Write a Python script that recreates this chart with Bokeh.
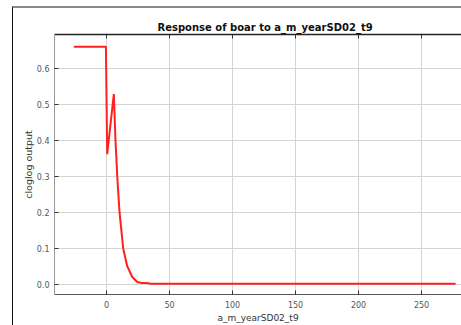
from bokeh.plotting import figure
from bokeh.models import LinearAxis, FixedTicker, Range1d, Grid, PrintfTickFormatter, CustomJSTickFormatter
from bokeh.layouts import column
from bokeh.embed import file_html
from bokeh.resources import INLINE

# Response curve of boar to a_m_yearSD02_t9 (cloglog output)
x_vals = [-26, -0.5, 0.5, 5.8, 7.1, 8.5, 10.3, 13.2, 16.4, 20.4, 24.4, 28, 32, 35, 277]
y_vals = [0.66, 0.66, 0.361, 0.528, 0.40, 0.30, 0.20, 0.10, 0.05, 0.02, 0.006, 0.003, 0.003, 0.001, 0.001]

x_ticks = [0, 50, 100, 150, 200, 250]
y_ticks = [0.0, 0.1, 0.2, 0.3, 0.4, 0.5, 0.6]

title_text = "Response of boar to a_m_yearSD02_t9"
x_label = "a_m_yearSD02_t9"
y_label = "cloglog output"

FONT = "DejaVu Sans"

p = figure(width=448, height=317, output_backend="svg", toolbar_location=None,
           x_range=Range1d(-41.3, 281.7), y_range=Range1d(-0.0287, 0.6937),
           x_axis_location=None, y_axis_location=None,
           min_border_left=41, min_border_right=0, min_border_top=26, min_border_bottom=31)
p.outline_line_color = None
p.background_fill_color = "white"
p.border_fill_color = "white"

p.title.text = title_text
p.title.align = "left"
p.title.offset = 103
p.title.text_font = FONT
p.title.text_font_size = "10px"
p.title.text_font_style = "bold"
p.title.text_color = "#111111"
p.title.standoff = 3

def style_axis(ax, line_color):
    ax.axis_line_color = line_color
    ax.axis_line_width = 1
    ax.major_tick_in = 4
    ax.major_tick_out = 0
    ax.major_tick_line_color = "#333333"
    ax.minor_tick_line_color = None
    ax.major_label_text_font = FONT
    ax.major_label_text_font_size = "8px"
    ax.major_label_text_color = "#555555"
    ax.axis_label_text_font = FONT
    ax.axis_label_text_font_size = "9px"
    ax.axis_label_text_font_style = "normal"
    ax.axis_label_text_color = "#333333"

xb = LinearAxis(ticker=FixedTicker(ticks=x_ticks))
style_axis(xb, "#555555")
xb.major_label_standoff = 6
xb.axis_label = x_label
xb.axis_label_standoff = 2
p.add_layout(xb, "below")

# top frame edge with inward ticks, no labels
xt = LinearAxis(ticker=FixedTicker(ticks=x_ticks), formatter=CustomJSTickFormatter(code="return ''"))
style_axis(xt, "#222222")
xt.axis_line_width = 1.5
xt.major_label_standoff = 0
p.add_layout(xt, "above")

yl = LinearAxis(ticker=FixedTicker(ticks=y_ticks), formatter=PrintfTickFormatter(format="%.1f"))
style_axis(yl, "#999999")
yl.axis_label = y_label
yl.axis_label_text_font_size = "9.5px"
yl.axis_label_standoff = 0
yl.major_label_standoff = 5
p.add_layout(yl, "left")

p.add_layout(Grid(dimension=0, ticker=xb.ticker, grid_line_color="#d4d4d4", grid_line_width=1))
p.add_layout(Grid(dimension=1, ticker=yl.ticker, grid_line_color="#d4d4d4", grid_line_width=1))

p.line(x_vals, y_vals, line_color="#ff2020", line_width=2)

layout = column(p, styles={"position": "absolute", "left": "12px", "top": "6px",
                           "border-left": "1px solid #111111", "border-top": "2px solid #8a8a8a",
                           "background": "white"})

open("out.html", "w").write(file_html(layout, INLINE))
